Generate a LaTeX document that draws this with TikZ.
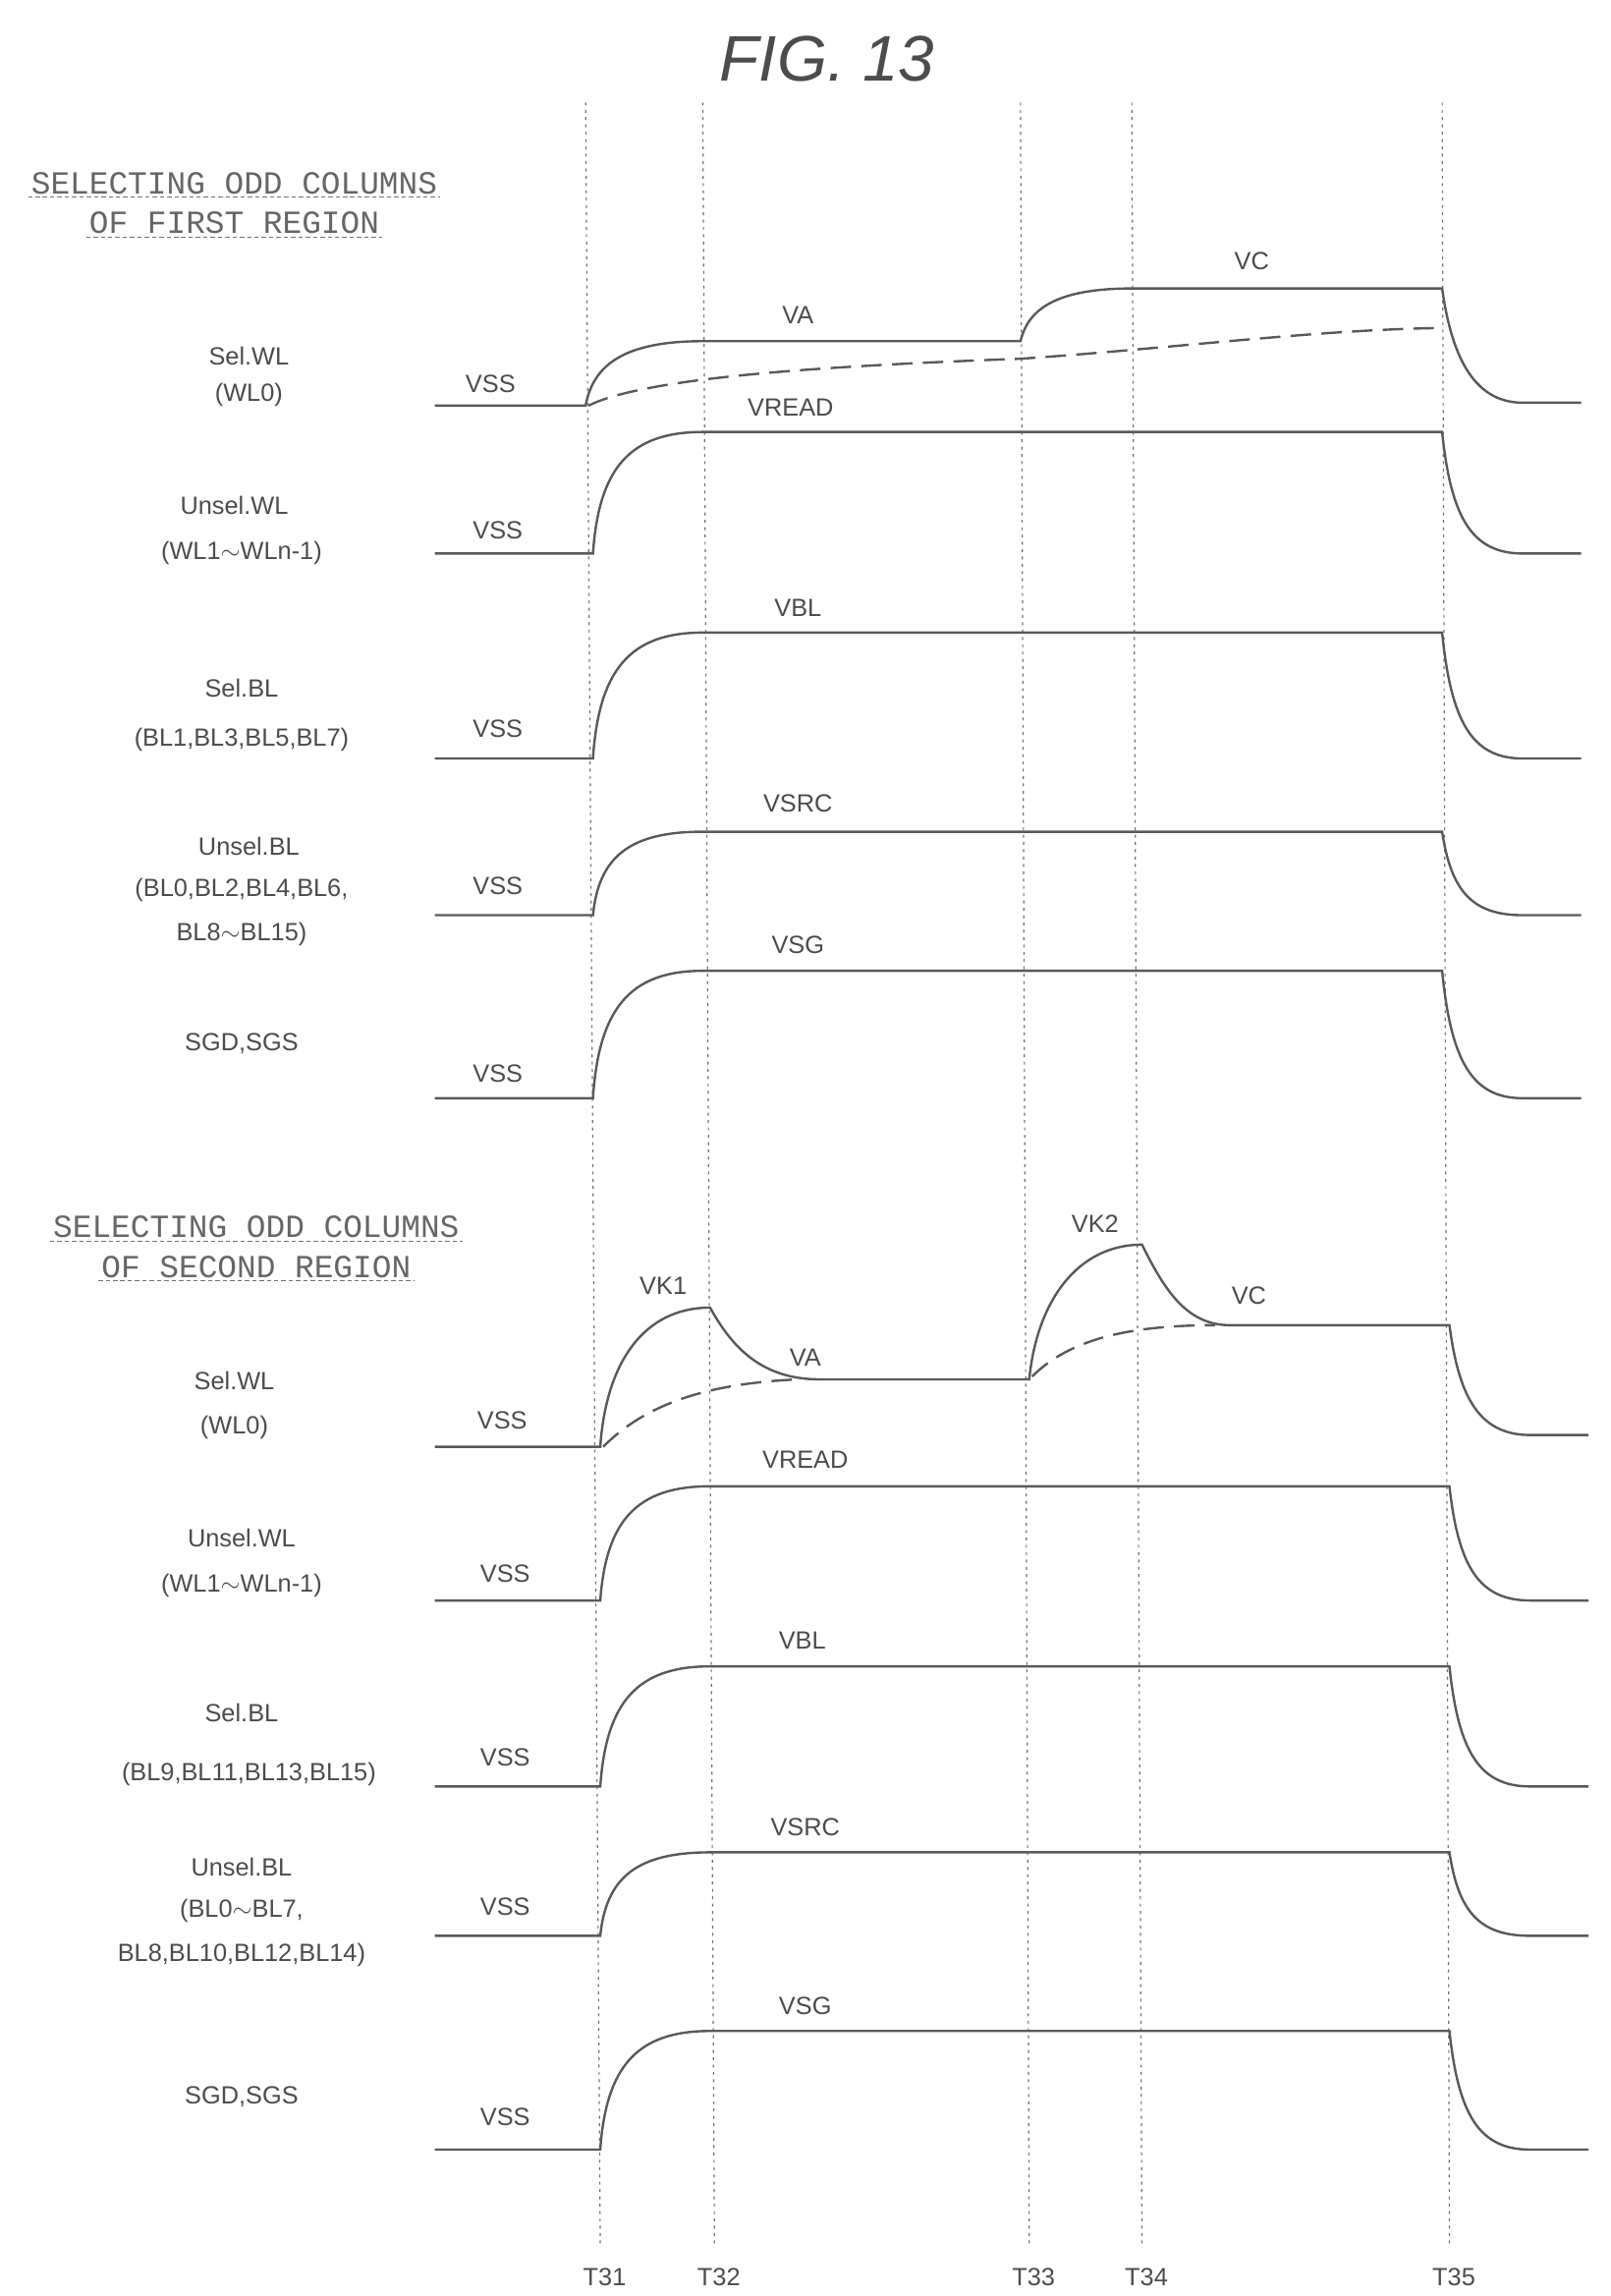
\documentclass[tikz,border=0pt]{standalone}
\usepackage{fontspec}
\setmainfont{Liberation Sans}
\setmonofont{Liberation Mono}
\begin{document}
\begin{tikzpicture}[x=1pt,y=-1pt,
  sig/.style={line width=1.6pt,draw=black!65},
  dsig/.style={sig,dash pattern=on 14pt off 7pt},
  vline/.style={draw=black!55,line width=0.8pt,dash pattern=on 2pt off 3pt},
  uline/.style={draw=black!55,line width=0.6pt,dash pattern=on 3pt off 2pt},
  lbl/.style={font=\fontsize{17}{20}\selectfont,text=black!70,inner sep=0pt},
  hdr/.style={font=\ttfamily\fontsize{22}{24}\selectfont,text=black!60,inner sep=2pt}]
\useasboundingbox (0,0) rectangle (1100,1568);
\newcommand\wave[6]{% #1 xstart, #2 xrise, #3 xfall, #4 low, #5 high, #6 xend
 \draw[sig] (#1,#4) -- (#2,#4) .. controls (#2+4,#5+0.3*#4-0.3*#5) and (#2+25,#5) .. (#2+75,#5) -- (#3,#5)
   .. controls (#3+6,#5+0.7*#4-0.7*#5) and (#3+20,#4) .. (#3+55,#4) -- (#6,#4);}
% title
\node[font=\itshape\fontsize{44}{50}\selectfont,text=black!70] (title) at (565,40) {FIG. 13};
% vertical dotted lines
\foreach \a/\b/\n in {400/410/T31,480/488/T32,697/703/T33,773/780/T34,985/990/T35}{
  \draw[vline] (\a,70) -- (\b,1535);
  \node[lbl] (\n) at (\b+3,1555) {\n};}
% headers
\node[hdr] (h1a) at (160,125) {SELECTING ODD COLUMNS};
\node[hdr] (h1b) at (160,152) {OF FIRST REGION};
\draw[uline] (h1a.south west) -- (h1a.south east);
\draw[uline] (h1b.south west) -- (h1b.south east);
\node[hdr] (h2a) at (175,838) {SELECTING ODD COLUMNS};
\node[hdr] (h2b) at (175,865) {OF SECOND REGION};
\draw[uline] (h2a.south west) -- (h2a.south east);
\draw[uline] (h2b.south west) -- (h2b.south east);
% ---------- first region ----------
\draw[sig] (297,277) -- (400,277) .. controls (405,250) and (425,233) .. (480,233) -- (697,233)
  .. controls (702,212) and (720,197) .. (773,197) -- (985,197)
  .. controls (991,240) and (1005,275) .. (1040,275) -- (1080,275);
\draw[dsig] (402,277) .. controls (440,258) and (560,250) .. (697,245) .. controls (800,238) and (900,225) .. (985,224);
\node[lbl] (l1) at (170,243) {Sel.WL}; \node[lbl] at (170,270) {(WL0)};
\node[lbl] at (335,262) {VSS}; \node[lbl] at (545,215) {VA}; \node[lbl] at (855,178) {VC};
\wave{297}{405}{985}{378}{295}{1080}
\node[lbl] at (160,345) {Unsel.WL}; \node[lbl] at (165,378) {(WL1$\sim$WLn-1)};
\node[lbl] at (340,362) {VSS}; \node[lbl] at (540,278) {VREAD};
\wave{297}{405}{985}{518}{432}{1080}
\node[lbl] at (165,470) {Sel.BL}; \node[lbl] at (165,505) {(BL1,BL3,BL5,BL7)};
\node[lbl] at (340,498) {VSS}; \node[lbl] at (545,415) {VBL};
\wave{297}{405}{985}{625}{568}{1080}
\node[lbl] at (170,578) {Unsel.BL}; \node[lbl] at (165,608) {(BL0,BL2,BL4,BL6,}; \node[lbl] at (165,638) {BL8$\sim$BL15)};
\node[lbl] at (340,605) {VSS}; \node[lbl] at (545,549) {VSRC};
\wave{297}{405}{985}{750}{663}{1080}
\node[lbl] at (165,713) {SGD,SGS};
\node[lbl] at (340,733) {VSS}; \node[lbl] at (545,645) {VSG};
% ---------- second region ----------
\draw[sig] (297,988) -- (410,988) .. controls (414,930) and (440,893) .. (485,893)
  .. controls (500,920) and (520,942) .. (560,942) -- (703,942)
  .. controls (708,890) and (735,850) .. (780,850)
  .. controls (795,880) and (810,905) .. (840,905) -- (990,905)
  .. controls (996,950) and (1008,980) .. (1045,980) -- (1085,980);
\draw[dsig] (412,988) .. controls (440,960) and (480,945) .. (545,942);
\draw[dsig] (705,940) .. controls (730,915) and (770,905) .. (830,905);
\node[lbl] at (160,943) {Sel.WL}; \node[lbl] at (160,975) {(WL0)};
\node[lbl] at (343,970) {VSS}; \node[lbl] at (453,878) {VK1}; \node[lbl] at (550,927) {VA};
\node[lbl] at (748,836) {VK2}; \node[lbl] at (853,885) {VC};
\wave{297}{410}{990}{1093}{1015}{1085}
\node[lbl] at (165,1050) {Unsel.WL}; \node[lbl] at (165,1083) {(WL1$\sim$WLn-1)};
\node[lbl] at (345,1075) {VSS}; \node[lbl] at (550,997) {VREAD};
\wave{297}{410}{990}{1220}{1138}{1085}
\node[lbl] at (165,1170) {Sel.BL}; \node[lbl] at (170,1212) {(BL9,BL11,BL13,BL15)};
\node[lbl] at (345,1200) {VSS}; \node[lbl] at (548,1120) {VBL};
\wave{297}{410}{990}{1322}{1265}{1085}
\node[lbl] at (165,1275) {Unsel.BL}; \node[lbl] at (165,1305) {(BL0$\sim$BL7,}; \node[lbl] at (165,1335) {BL8,BL10,BL12,BL14)};
\node[lbl] at (345,1302) {VSS}; \node[lbl] at (550,1248) {VSRC};
\wave{297}{410}{990}{1468}{1387}{1085}
\node[lbl] at (165,1432) {SGD,SGS};
\node[lbl] at (345,1446) {VSS}; \node[lbl] at (550,1370) {VSG};
\end{tikzpicture}
\end{document}
